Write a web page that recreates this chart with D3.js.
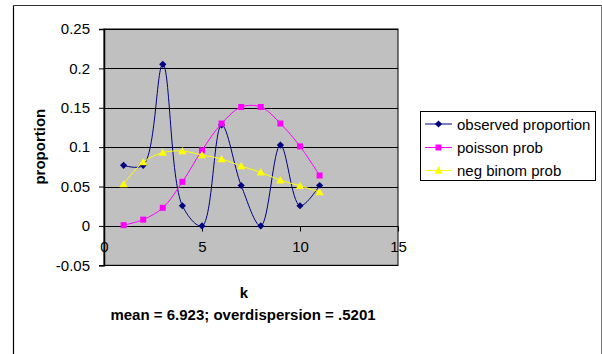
<!DOCTYPE html>
<html>
<head>
<meta charset="utf-8">
<script src="https://cdn.jsdelivr.net/npm/d3@7"></script>
<style>
  html, body { margin: 0; padding: 0; background: #fff; }
  svg { display: block; }
  text { font-family: "Liberation Sans", Arial, sans-serif; fill: #000; }
</style>
</head>
<body>
<script>
// k values and the three distributions
const kValues = [1, 2, 3, 4, 5, 6, 7, 8, 9, 10, 11];
const observedProportion = [0.0769, 0.0769, 0.2051, 0.0256, 0, 0.1282, 0.0513, 0, 0.1026, 0.0256, 0.0513];
const poissonProb = [0.001, 0.008, 0.023, 0.056, 0.096, 0.130, 0.151, 0.151, 0.130, 0.101, 0.064];
const negBinomProb = [0.053, 0.081, 0.093, 0.095, 0.090, 0.085, 0.076, 0.068, 0.058, 0.051, 0.043];

const xTicks = [0, 5, 10, 15];
const yTicks = [-0.05, 0, 0.05, 0.1, 0.15, 0.2, 0.25];
const yTickLabels = ["-0.05", "0", "0.05", "0.1", "0.15", "0.2", "0.25"];

const seriesNames = ["observed proportion", "poisson prob", "neg binom prob"];

const W = 602, H = 354;
const svg = d3.select("body").append("svg").attr("width", W).attr("height", H);

// outer chart frame
svg.append("line").attr("x1", 13.5).attr("x2", 13.5).attr("y1", 5.5).attr("y2", H)
  .attr("stroke", "#000").attr("stroke-width", 1.2);
svg.append("line").attr("x1", 13.5).attr("x2", 601.5).attr("y1", 5.5).attr("y2", 5.5)
  .attr("stroke", "#333").attr("stroke-width", 1);
svg.append("line").attr("x1", 601.5).attr("x2", 601.5).attr("y1", 5.5).attr("y2", H)
  .attr("stroke", "#777").attr("stroke-width", 1);

const plot = { left: 104, right: 398, top: 29, bottom: 265.3 };
const x = d3.scaleLinear().domain([0, 15]).range([plot.left, plot.right]);
const y = d3.scaleLinear().domain([-0.05, 0.25]).range([plot.bottom, plot.top]);

// plot area
svg.append("rect")
  .attr("x", plot.left).attr("y", plot.top)
  .attr("width", plot.right - plot.left).attr("height", plot.bottom - plot.top)
  .attr("fill", "#C0C0C0").attr("stroke", "#000").attr("stroke-width", 1);

// horizontal gridlines
svg.append("g").selectAll("line").data(yTicks).join("line")
  .attr("x1", plot.left).attr("x2", plot.right)
  .attr("y1", d => Math.round(y(d)) + 0.5).attr("y2", d => Math.round(y(d)) + 0.5)
  .attr("stroke", "#000").attr("stroke-width", 1);

// y axis
const yAxis = d3.axisLeft(y).tickValues(yTicks).tickSize(5).tickPadding(9)
  .tickFormat((d, i) => yTickLabels[i]);
const gy = svg.append("g").attr("transform", `translate(${plot.left},0)`).call(yAxis);
gy.select(".domain").attr("stroke", "#000").attr("stroke-width", 1.5);
gy.selectAll(".tick line").attr("stroke", "#000");
gy.selectAll(".tick text").attr("font-size", 15).attr("font-family", "Liberation Sans, Arial, sans-serif").attr("fill", "#000");

// x axis along y = 0
const xAxis = d3.axisBottom(x).tickValues(xTicks).tickSize(5).tickPadding(10).tickFormat(d3.format("d"));
const gx = svg.append("g").attr("transform", `translate(0,${Math.round(y(0)) + 0.5})`).call(xAxis);
gx.select(".domain").remove();
gx.selectAll(".tick line").attr("stroke", "#000");
gx.selectAll(".tick text").attr("font-size", 15).attr("font-family", "Liberation Sans, Arial, sans-serif").attr("fill", "#000");
gx.lower();
svg.select("rect").lower();

// axis titles
svg.append("text")
  .attr("transform", `translate(39,${(plot.top + plot.bottom) / 2 - 0.5}) rotate(-90)`)
  .attr("text-anchor", "middle").attr("dominant-baseline", "central")
  .attr("font-size", 15).attr("font-weight", "bold").text("proportion");
svg.append("text").attr("x", 244).attr("y", 298)
  .attr("text-anchor", "middle").attr("font-size", 15).attr("font-weight", "bold").text("k");
svg.append("text").attr("x", 243).attr("y", 319.5)
  .attr("text-anchor", "middle").attr("font-size", 15).attr("font-weight", "bold")
  .text("mean = 6.923; overdispersion = .5201");

const series = [
  { name: seriesNames[0], values: observedProportion, color: "#000080", marker: d3.symbolDiamond, size: 34 },
  { name: seriesNames[1], values: poissonProb, color: "#FF00FF", marker: d3.symbolSquare, size: 36 },
  { name: seriesNames[2], values: negBinomProb, color: "#FFFF00", marker: d3.symbolTriangle, size: 30 }
];

// smoothed connecting lines
const line = d3.line().x((d, i) => x(kValues[i])).y(d => y(d)).curve(d3.curveCatmullRom.alpha(0.5));

const markerPath = s => {
  if (s.marker === d3.symbolDiamond) {
    return "M0,-3.6L3.6,0L0,3.6L-3.6,0Z";
  }
  return d3.symbol().type(s.marker).size(s.size)();
};

series.forEach(s => {
  svg.append("path").datum(s.values).attr("d", line)
    .attr("fill", "none").attr("stroke", s.color).attr("stroke-width", 1);
});
series.forEach(s => {
  svg.append("g").selectAll("path").data(s.values).join("path")
    .attr("transform", (d, i) => `translate(${x(kValues[i])},${y(d) + (s.marker === d3.symbolTriangle ? 0.8 : 0)})`)
    .attr("d", markerPath(s)).attr("fill", s.color);
});

// legend
const lg = svg.append("g");
lg.append("rect").attr("x", 420.5).attr("y", 111.5).attr("width", 175).attr("height", 69)
  .attr("fill", "#fff").attr("stroke", "#000").attr("stroke-width", 1);
const rowY = [124, 147.5, 170.5];
series.forEach((s, i) => {
  lg.append("line").attr("x1", 425).attr("x2", 452).attr("y1", rowY[i]).attr("y2", rowY[i])
    .attr("stroke", s.color).attr("stroke-width", 1);
  lg.append("path").attr("transform", `translate(438.5,${rowY[i] + (s.marker === d3.symbolTriangle ? 0.8 : 0)})`)
    .attr("d", markerPath(s)).attr("fill", s.color);
  lg.append("text").attr("x", 457).attr("y", rowY[i]).attr("dominant-baseline", "central")
    .attr("font-size", 15).text(s.name);
});
</script>
</body>
</html>
